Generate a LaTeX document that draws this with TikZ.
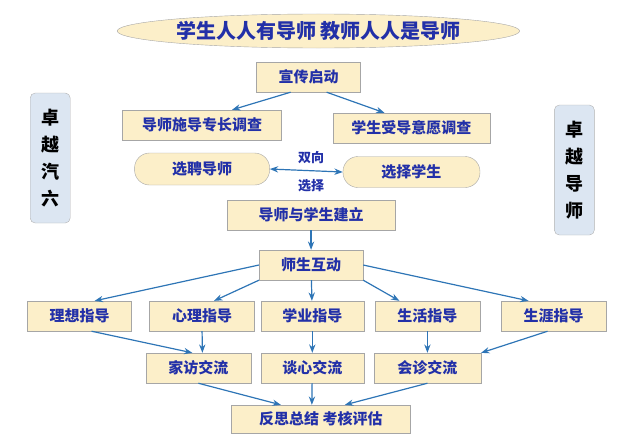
\documentclass[tikz,border=0pt]{standalone}
\usepackage{fontspec}
\newfontfamily\cjk{Noto Sans CJK SC}
\usetikzlibrary{arrows.meta,shapes.geometric,positioning}
\definecolor{boxfill}{HTML}{FCEFC9}
\definecolor{sidefill}{HTML}{DCE6F2}
\definecolor{txtblue}{HTML}{2230A8}
\definecolor{arrblue}{HTML}{2E75B6}
\begin{document}
\begin{tikzpicture}
    [   x = 1.2245pt, y = -1pt
    ,   > = Stealth
    ,   stepbox/.style = {draw=gray!70, fill=boxfill, text=txtblue, font=\cjk\bfseries\fontsize{15}{15}\selectfont,
                          minimum height=30pt, inner sep=0pt}
    ,   ovalbox/.style = {stepbox, rounded corners=15pt}
    ,   sidebox/.style = {draw=gray!60, fill=sidefill, rounded corners=5pt, text=black,
                          font=\cjk\bfseries\fontsize{18}{27}\selectfont, align=center,
                          minimum width=40pt, minimum height=130pt, inner sep=0pt}
    ,   link/.style = {->, draw=arrblue, line width=1.2pt}
    ]
    \useasboundingbox (0,0) rectangle (522.6,446);

    \node[ellipse, draw=gray!70, fill=boxfill, text=txtblue, font=\cjk\bfseries\fontsize{20}{20}\selectfont,
          minimum width=367pt, minimum height=34pt, inner sep=0pt] (motto) at (260,31) {学生人人有导师 教师人人是导师};

    \node[stepbox, minimum width=104pt] (launch) at (252,77) {宣传启动};
    \node[stepbox, minimum width=159pt] (tsurvey) at (165,125) {导师施导专长调查};
    \node[stepbox, minimum width=157pt] (ssurvey) at (336,128) {学生受导意愿调查};
    \node[ovalbox, minimum width=135pt, minimum height=32pt] (pickt) at (165,169) {选聘导师};
    \node[ovalbox, minimum width=137pt, minimum height=31pt] (picks) at (336,172) {选择学生};
    \node[text=txtblue, font=\cjk\bfseries\fontsize{13}{13}\selectfont] (two) at (254,158) {双向};
    \node[text=txtblue, font=\cjk\bfseries\fontsize{13}{13}\selectfont] (choose) at (254,186) {选择};
    \node[stepbox, minimum width=168pt] (build) at (254,215) {导师与学生建立};

    \node[sidebox] (left) at (41,158) {卓\\越\\汽\\六};
    \node[sidebox] (right) at (469,170) {卓\\越\\导\\师};

    \node[stepbox, minimum width=104pt] (interact) at (254,265) {师生互动};

    \node[stepbox, minimum width=104pt] (ideal) at (65,316) {理想指导};
    \node[stepbox, minimum width=105pt] (mind) at (165,316) {心理指导};
    \node[stepbox, minimum width=103pt] (study) at (255,316) {学业指导};
    \node[stepbox, minimum width=105pt] (life) at (349,316) {生活指导};
    \node[stepbox, minimum width=105pt] (career) at (452,316) {生涯指导};

    \node[stepbox, minimum width=105pt] (visit) at (162,368) {家访交流};
    \node[stepbox, minimum width=103pt] (talk) at (255,368) {谈心交流};
    \node[stepbox, minimum width=107pt] (consult) at (349,368) {会诊交流};

    \node[stepbox, minimum width=179pt, minimum height=28pt] (review) at (262,419) {反思总结\ 考核评估};

    % arrows
    \draw[link] ([xshift=-18pt]launch.south) -- ([xshift=30pt]tsurvey.north);
    \draw[link] ([xshift=18pt]launch.south) -- ([xshift=-27pt]ssurvey.north);
    \draw[link, <->] (pickt.east) -- (picks.west);
    \draw[link] (build) -- (interact);

    \draw[link] (interact.west) -- ([xshift=15pt]ideal.north);
    \draw[link] (interact.south west) -- ([xshift=12pt]mind.north);
    \draw[link] (interact) -- (study);
    \draw[link] (interact.south east) -- ([xshift=-28pt]life.north);
    \draw[link] (interact.east) -- ([xshift=-25pt]career.north);

    \draw[link] ([xshift=12pt]ideal.south) -- ([xshift=-6pt]visit.north);
    \draw[link] (mind.south) -- ([xshift=4pt]visit.north);
    \draw[link] (study) -- (talk);
    \draw[link] (life) -- (consult);
    \draw[link] ([xshift=-6pt]career.south) -- (consult.north east);

    \draw[link] (visit.south) -- ([xshift=-40pt]review.north);
    \draw[link] (talk) -- ([xshift=-9pt]review.north);
    \draw[link] (consult.south) -- ([xshift=24pt]review.north);
\end{tikzpicture}
\end{document}
